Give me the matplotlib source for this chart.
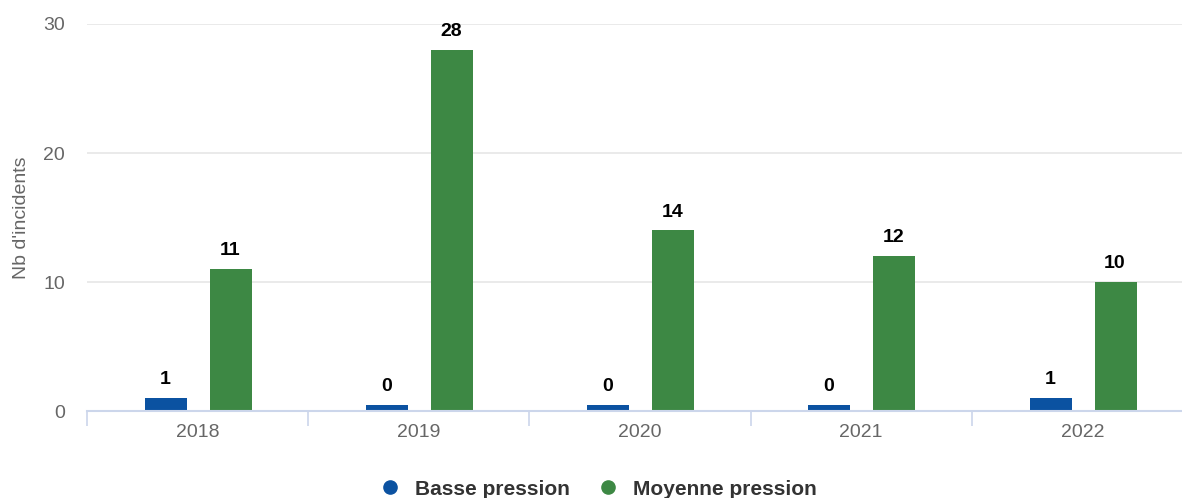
import matplotlib
matplotlib.use("Agg")
import matplotlib.pyplot as plt
import numpy as np
from matplotlib.lines import Line2D

plt.rcParams['font.family'] = ['Liberation Sans', 'DejaVu Sans']

years = ["2018", "2019", "2020", "2021", "2022"]
basse = [1, 0, 0, 0, 1]
moyenne = [11, 28, 14, 12, 10]
series_names = ["Basse pression", "Moyenne pression"]
colors = ["#0b52a1", "#3d8844"]

fig = plt.figure(figsize=(11.82, 4.98), dpi=100)
ax = fig.add_axes([87/1182, 1 - 411/498, (1193 - 87)/1182, (411 - 24)/498])

x = np.arange(len(years))
width = 0.19
offset = 0.147
min_h = 0.45  # minimal visible height for zero values

for vals, off, col in [(basse, -offset, colors[0]), (moyenne, offset, colors[1])]:
    heights = [max(v, min_h) for v in vals]
    ax.bar(x + off + 0.003, heights, width=width, color=col, zorder=3)
    for xi, v, h in zip(x + off, vals, heights):
        ax.annotate(str(v), (xi, h), xytext=(0, 7), textcoords="offset points",
                    ha="center", va="bottom", fontsize=14, fontweight="bold", color="#000000")

ax.set_xlim(-0.5, len(years) - 0.5)
ax.set_ylim(0, 30)
ax.set_yticks([0, 10, 20, 30])
ax.yaxis.grid(True, color="#e6e6e6", linewidth=1.2, zorder=0)
ax.tick_params(axis="y", length=0, labelsize=14, labelcolor="#666666", pad=16)

ax.set_xticks(x)
ax.set_xticklabels(years)
ax.set_xticks(np.arange(-0.5, len(years)), minor=True)
ax.tick_params(axis="x", which="major", length=0, labelsize=14, labelcolor="#666666", pad=9)
ax.tick_params(axis="x", which="minor", length=11, width=1.2, color="#ccd6eb")

for s in ["top", "right", "left"]:
    ax.spines[s].set_visible(False)
ax.spines["bottom"].set_color("#ccd6eb")
ax.spines["bottom"].set_linewidth(1.5)
ax.spines["bottom"].set_zorder(4)

ax.set_ylabel("Nb d'incidents", fontsize=14, color="#666666")
ax.yaxis.set_label_coords((30 - 87) / 1106, 0.5)

handles = [Line2D([], [], marker="o", linestyle="none", markersize=9.5, markerfacecolor=c,
                  markeredgecolor=c) for c in colors]
fig.legend(handles, series_names, loc="center", bbox_to_anchor=(598/1182, 1 - 489/498),
           ncol=2, frameon=False, prop={"size": 15, "weight": "bold"}, labelcolor="#333333",
           handletextpad=0.7, columnspacing=1.32, handlelength=1.0, borderpad=0)

fig.savefig("out.png", dpi=100)
